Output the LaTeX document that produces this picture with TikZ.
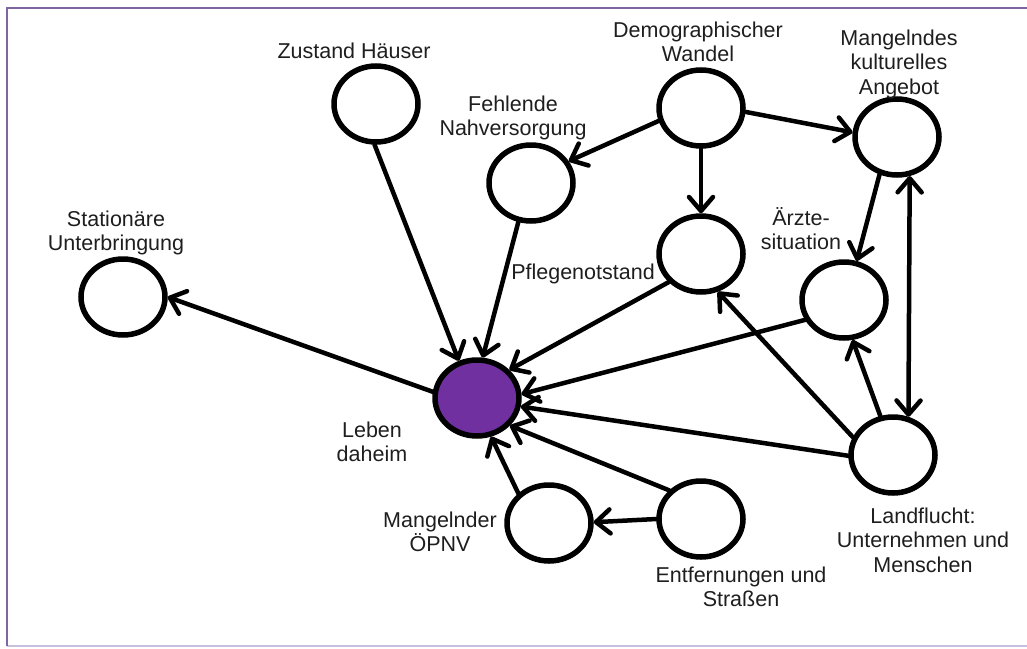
\documentclass[tikz,border=0pt]{standalone}
\usepackage{fontspec}
\setmainfont{Liberation Sans}
\usetikzlibrary{arrows.meta,shapes.geometric}
\definecolor{lila}{RGB}{112,48,160}
\definecolor{framedark}{RGB}{128,102,160}
\definecolor{framelight}{RGB}{200,190,222}
\definecolor{txt}{RGB}{30,30,30}
\newcommand\stk[1]{\vtop{\baselineskip=24.5pt\lineskiplimit=-100pt\halign{\hfil##\hfil\cr#1\crcr}}}
\tikzset{
  circ/.style={ellipse, draw=black, line width=5.5pt, fill=white, minimum width=84pt, minimum height=76pt, inner sep=0pt},
  lbl/.style={anchor=base, inner sep=0pt, text=txt, font=\fontsize{21.5pt}{24.5pt}\selectfont},
  conn/.style={line width=4.5pt, line cap=round, line join=round},
  >={Straight Barb[length=14pt,width=24pt,round]}
}
\begin{document}
\begin{tikzpicture}[x=1pt,y=-1pt]
\useasboundingbox (0,0) rectangle (1027,648);
% frame
\draw[framelight, line width=2pt] (7,646) -- (1027,646);
\draw[framedark, line width=2.5pt] (1027,8) -- (7,8) -- (7,646);
% circles
\node[circ] (zust)  at (376,104) {};
\node[circ] (fehl)  at (531,183) {};
\node[circ] (demo)  at (701,108) {};
\node[circ] (mang)  at (897,137) {};
\node[circ] (stat)  at (123,297) {};
\node[circ] (pfleg) at (701,254) {};
\node[circ] (arzt)  at (844,300) {};
\node[circ, fill=lila] (leben) at (477,398) {};
\node[circ] (land)  at (893,455) {};
\node[circ] (opnv)  at (549,523) {};
\node[circ] (entf)  at (701,519) {};
% labels
\node[lbl] (lzust)  at (354,58)  {\stk{Zustand Häuser}};
\node[lbl] (lfehl)  at (513,111) {\stk{Fehlende\cr Nahversorgung}};
\node[lbl] (ldemo)  at (698,37)  {\stk{Demographischer\cr Wandel}};
\node[lbl] (lmang)  at (899,45)  {\stk{Mangelndes\cr kulturelles\cr Angebot}};
\node[lbl] (lstat)  at (116,226) {\stk{Stationäre\cr Unterbringung}};
\node[lbl] (lpfleg) at (583,279) {\stk{Pflegenotstand}};
\node[lbl] (larzt)  at (801,225) {\stk{Ärzte-\cr situation}};
\node[lbl] (lleben) at (372,437) {\stk{Leben\cr daheim}};
\node[lbl] (lland)  at (923,523) {\stk{Landflucht:\cr Unternehmen und\cr Menschen}};
\node[lbl] (lopnv)  at (440,527) {\stk{Mangelnder\cr ÖPNV}};
\node[lbl] (lentf)  at (741,582) {\stk{Entfernungen und\cr Straßen}};
% connectors
\draw[conn,->] (zust.268) -- (leben.116);
\draw[conn,->] (fehl.252) -- (leben.82);
\draw[conn,->] (pfleg.221) -- (leben.41);
\draw[conn,->] (arzt.207) -- (leben.5);
\draw[conn,->] (land.181) -- (leben.-11);
\draw[conn,->] (land.156) -- (pfleg.294);
\draw[conn,->] (land.108) -- (arzt.282);
\draw[conn,<->] (mang.288) -- (land.68);
\draw[conn,->] (mang.245) -- (arzt.72);
\draw[conn,->] (demo.-5) -- (mang.174);
\draw[conn,->] (demo.197) -- (fehl.30);
\draw[conn,->] (demo.270) -- (pfleg.90);
\draw[conn,->] (leben.172) -- (stat.0);
\draw[conn,->] (entf.138) -- (leben.-40);
\draw[conn,->] (entf.180) -- (opnv.1);
\draw[conn,->] (opnv.136) -- (leben.-70);
\end{tikzpicture}
\end{document}
